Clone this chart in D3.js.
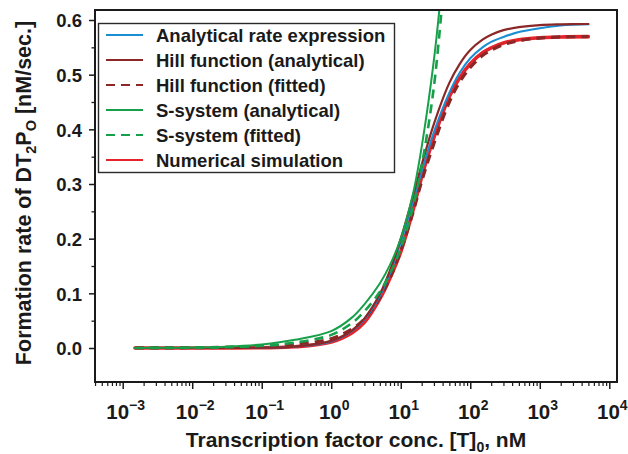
<!DOCTYPE html>
<html><head><meta charset="utf-8">
<script src="https://cdn.jsdelivr.net/npm/d3@7"></script>
<style>
body{margin:0;background:#fff}
svg{display:block;font-family:"Liberation Sans",Arial,sans-serif;font-weight:bold}
</style>
</head><body><svg id="c" width="628" height="454"></svg>
<script>
// ---- data ----
const concentration = [0.0015, 0.003, 0.01, 0.03, 0.1, 0.3, 1, 2, 3, 5, 7, 10, 15, 20, 30, 50, 70, 100, 150, 200, 300, 500, 1000, 2000, 5000];
const analyticalRate = [0, 0, 0.00003, 0.0001, 0.0006, 0.0025, 0.012, 0.031, 0.052, 0.095, 0.137, 0.193, 0.268, 0.323, 0.395, 0.467, 0.503, 0.530, 0.550, 0.560, 0.569, 0.578, 0.585, 0.590, 0.592];
const hillAnalytical = [0, 0, 0.00003, 0.0001, 0.0006, 0.0026, 0.013, 0.0325, 0.054, 0.0986, 0.142, 0.200, 0.2776, 0.335, 0.410, 0.485, 0.519, 0.545, 0.564, 0.573, 0.5814, 0.587, 0.5907, 0.592, 0.5927];
const hillFitted = [0.0001, 0.0002, 0.0005, 0.0012, 0.003, 0.007, 0.017, 0.035, 0.053, 0.092, 0.128, 0.178, 0.248, 0.305, 0.374, 0.450, 0.486, 0.513, 0.535, 0.545, 0.555, 0.562, 0.567, 0.569, 0.5695];
const numericalSim = [0, 0, 0.00002, 0.0001, 0.0005, 0.0022, 0.011, 0.028, 0.047, 0.09, 0.128, 0.176, 0.252, 0.313, 0.385, 0.460, 0.494, 0.520, 0.540, 0.549, 0.558, 0.564, 0.5675, 0.569, 0.5695];
const sConcentration = [0.0015, 0.003, 0.01, 0.03, 0.1, 0.3, 1, 2, 3, 5, 7, 10, 15, 20, 30, 40];
const sSystemAnalytical = [0.0002, 0.0004, 0.001, 0.0025, 0.0065, 0.015, 0.031, 0.056, 0.080, 0.118, 0.152, 0.200, 0.282, 0.368, 0.527, 0.68];
const sSystemFitted = [0.0001, 0.0002, 0.0006, 0.0015, 0.004, 0.010, 0.024, 0.046, 0.067, 0.103, 0.136, 0.182, 0.258, 0.333, 0.478, 0.64];
const yTicks = [0.0, 0.1, 0.2, 0.3, 0.4, 0.5, 0.6];
const yMinorTicks = [0.05, 0.15, 0.25, 0.35, 0.45, 0.55];
const xTickExponents = [-3, -2, -1, 0, 1, 2, 3, 4];
const legendNames = ["Analytical rate expression", "Hill function (analytical)", "Hill function (fitted)", "S-system (analytical)", "S-system (fitted)", "Numerical simulation"];

// ---- styles ----
const C = {blue:"#1b8dd3", dred:"#8c2727", green:"#17a04a", red:"#e5232a"};
const series = [
  {name:legendNames[5], xs:concentration, ys:numericalSim, color:C.red, w:3.6, dash:null},
  {name:legendNames[2], xs:concentration, ys:hillFitted, color:C.dred, w:3.2, dash:"9,6"},
  {name:legendNames[0], xs:concentration, ys:analyticalRate, color:C.blue, w:2, dash:null},
  {name:legendNames[1], xs:concentration, ys:hillAnalytical, color:C.dred, w:2.2, dash:null},
  {name:legendNames[3], xs:sConcentration, ys:sSystemAnalytical, color:C.green, w:2, dash:null},
  {name:legendNames[4], xs:sConcentration, ys:sSystemFitted, color:C.green, w:2.6, dash:"9,6"}
];
const legendStyle = [series[2], series[3], series[1], series[4], series[5], series[0]];

const svg = d3.select("#c");
const F = {left:95, top:10, right:617, bottom:382};
const x = d3.scaleLog().domain([1e-3, 1e4]).range([122.7, 609.3]);
const y = d3.scaleLinear().domain([0, 0.6]).range([348, 20]);

svg.append("defs").append("clipPath").attr("id","clip")
  .append("rect").attr("x",F.left).attr("y",F.top).attr("width",F.right-F.left).attr("height",F.bottom-F.top);

// curves
const line = d3.line().x(d=>x(d[0])).y(d=>y(d[1])).curve(d3.curveCatmullRom.alpha(0.5));
const g = svg.append("g").attr("clip-path","url(#clip)");
series.forEach(s=>{
  g.append("path").datum(s.xs.map((v,i)=>[v,s.ys[i]]))
   .attr("d",line).attr("fill","none").attr("stroke",s.color)
   .attr("stroke-width",s.w).attr("stroke-dasharray",s.dash)
   .attr("stroke-linecap", s.dash? "butt":"round");
});

// frame
svg.append("rect").attr("x",F.left).attr("y",F.top).attr("width",F.right-F.left).attr("height",F.bottom-F.top)
  .attr("fill","none").attr("stroke","#1a1a1a").attr("stroke-width",2);

// y axis
const yAx = svg.append("g").attr("transform",`translate(${F.left},0)`)
  .call(d3.axisLeft(y).tickValues(yTicks).tickSize(6).tickPadding(7).tickFormat(d3.format(".1f")));
yAx.select(".domain").remove();
yAx.selectAll("line").attr("stroke","#1a1a1a").attr("stroke-width",1.5);
yAx.selectAll("text").attr("font-size",18.5).attr("font-family","Liberation Sans, Arial").attr("font-weight","bold").attr("fill","#1a1a1a").attr("dy","0.36em");
const yMin = svg.append("g").attr("transform",`translate(${F.left},0)`)
  .call(d3.axisLeft(y).tickValues(yMinorTicks).tickSize(3.5).tickFormat(""));
yMin.select(".domain").remove();
yMin.selectAll("line").attr("stroke","#1a1a1a").attr("stroke-width",1.3);

// x axis
const xMajors = xTickExponents.map(e=>Math.pow(10,e));
const xAx = svg.append("g").attr("transform",`translate(0,${F.bottom})`)
  .call(d3.axisBottom(x).tickValues(xMajors).tickSize(7).tickFormat(""));
xAx.select(".domain").remove();
xAx.selectAll("line").attr("stroke","#1a1a1a").attr("stroke-width",1.5);
const lo = x.invert(F.left), hi = x.invert(F.right);
const xMinors = [];
for (let e=-4; e<=4; e++) for (let m=2; m<=9; m++){ const v=m*Math.pow(10,e); if(v>lo && v<hi) xMinors.push(v); }
const xMin = svg.append("g").attr("transform",`translate(0,${F.bottom})`)
  .call(d3.axisBottom(x).tickValues(xMinors).tickSize(4).tickFormat(""));
xMin.select(".domain").remove();
xMin.selectAll("line").attr("stroke","#1a1a1a").attr("stroke-width",1.2);

const xl = svg.append("g").attr("font-size",20.5).attr("fill","#1a1a1a");
xTickExponents.forEach(e=>{
  const t = xl.append("text").attr("x",x(Math.pow(10,e))+3).attr("y",419).attr("text-anchor","middle");
  t.append("tspan").text("10");
  t.append("tspan").attr("dy",-9).attr("font-size",14).text(e<0? "\u2212"+(-e) : String(e));
});

// axis titles
const xt = svg.append("text").attr("x",(F.left+F.right)/2).attr("y",447).attr("text-anchor","middle")
  .attr("font-size",21).attr("fill","#1a1a1a");
xt.append("tspan").text("Transcription factor conc. [T]");
xt.append("tspan").attr("dy",5).attr("font-size",14).text("0");
xt.append("tspan").attr("dy",-5).text(", nM");

const yt = svg.append("text").attr("transform",`translate(31,193) rotate(-90)`)
  .attr("text-anchor","middle").attr("font-size",21.5).attr("fill","#1a1a1a");
yt.append("tspan").text("Formation rate of DT");
yt.append("tspan").attr("dy",5).attr("font-size",14.5).text("2");
yt.append("tspan").attr("dy",-5).text("P");
yt.append("tspan").attr("dy",5).attr("font-size",14.5).text("O");
yt.append("tspan").attr("dy",-5).text(" [nM/sec.]");

// legend
const lg = svg.append("g");
lg.append("rect").attr("x",98.5).attr("y",23.5).attr("width",296).attr("height",149)
  .attr("fill","#fff").attr("stroke","#2a2a2a").attr("stroke-width",1.4);
legendStyle.forEach((s,i)=>{
  const cy = 35 + i*25;
  lg.append("line").attr("x1",106).attr("x2",143).attr("y1",cy).attr("y2",cy)
    .attr("stroke",s.color).attr("stroke-width",2).attr("stroke-dasharray",s.dash);
  lg.append("text").attr("x",156).attr("y",cy+6.7).attr("font-size",18.5).attr("fill","#1a1a1a").text(legendNames[i]);
});
</script>
</body></html>
